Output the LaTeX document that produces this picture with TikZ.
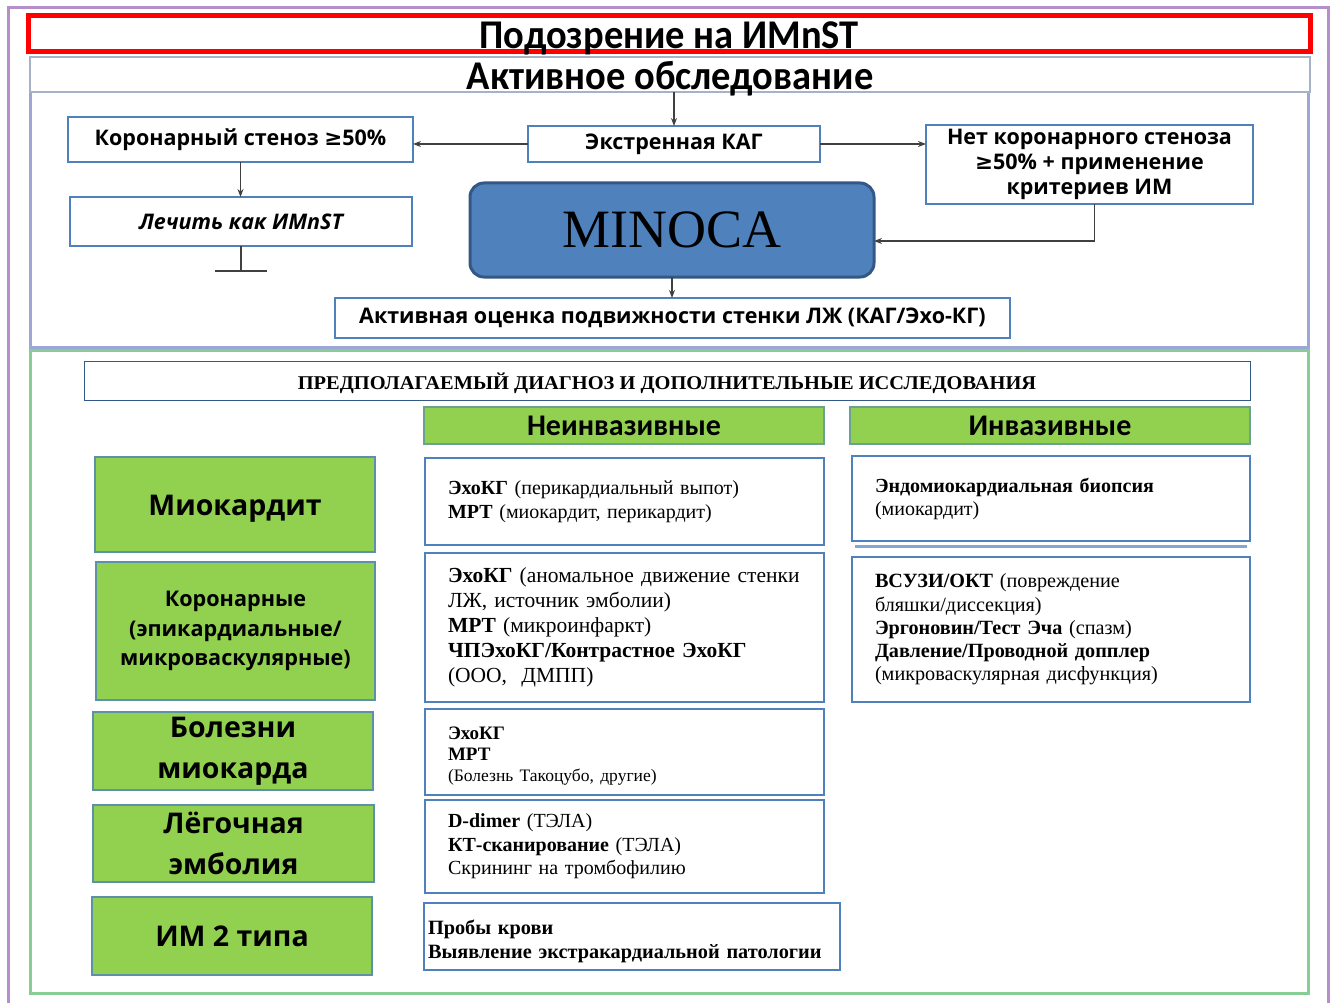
\documentclass[tikz,border=0pt]{standalone}
\usepackage{fontspec}
\setmainfont{Liberation Serif}
\newfontfamily\calfont{Carlito}
\newfontfamily\osfont{Open Sans}
\newfontfamily\djfont{DejaVu Sans}
\usetikzlibrary{arrows.meta,calc}

\definecolor{framepurple}{RGB}{182,142,202}
\definecolor{framelav}{RGB}{158,166,216}
\definecolor{framegreen}{RGB}{134,206,150}
\definecolor{boxblue}{RGB}{79,129,189}
\definecolor{darkblue}{RGB}{52,88,134}
\definecolor{leafgreen}{RGB}{146,208,80}
\definecolor{arrowgray}{RGB}{64,64,64}
\definecolor{softgray}{RGB}{165,178,200}

\newcommand\fsz[2]{\fontsize{#1}{#2}\selectfont}
\newcommand\gesign{{\djfont\bfseries ≥}}
% move content down while keeping its reported height and depth
\newcommand\dropby[2]{\raisebox{-#1pt}[\height][\depth]{#2}}
% box from corner (x1,y1) to corner (x2,y2): style, x1, y1, x2, y2, name, text
\newcommand\bx[7]{\node[#1, minimum width={#4-#2}, minimum height={#5-#3}]
  (#6) at ({(#2+#4)/2},{(#3+#5)/2}) {#7};}

\begin{document}
\begin{tikzpicture}[x=1pt,y=-1pt,
  every node/.style={inner sep=0pt, outer sep=0pt},
  headbox/.style={draw=boxblue, line width=2.2pt, fill=white,
    font=\osfont\bfseries\fsz{21.5}{25}, align=center},
  greenbox/.style={draw=boxblue!80!leafgreen, line width=1.6pt, fill=leafgreen,
    font=\osfont\bfseries\fsz{28.5}{41}, align=center},
  colhead/.style={draw=boxblue!60!leafgreen, line width=1.4pt, fill=leafgreen,
    font=\calfont\bfseries\fsz{30}{32}},
  testbox/.style={draw=boxblue, line width=2.2pt, fill=white, align=left},
  arr/.style={draw=arrowgray, line width=1.3pt, -{Stealth[length=8pt,width=6pt]}},
  region/.style={line width=3pt}
]
\useasboundingbox (0,0) rectangle (1336,1003);
\fill[white] (0,0) rectangle (1336,1003);

% outer frame (continues below the page edge)
\draw[framepurple, region] (8,1010) -- (8,8) -- (1328,8) -- (1328,1010);

% section frames
\bx{draw=framelav, region}{30}{92}{1308}{347}{upper}{}
\bx{draw=framegreen, region}{30}{350}{1308}{993}{lower}{}

% title bars
\bx{draw=red, line width=5pt, fill=white, font=\calfont\bfseries\fsz{38.5}{40}}
  {28}{16}{1310}{52}{susp}{\dropby{4}{\scalebox{1}[1.06]{Подозрение на ИМnST}}}
\bx{draw=softgray, line width=1.4pt, fill=white, font=\calfont\bfseries\fsz{38.5}{40}}
  {30}{57}{1310}{92}{akt}{\dropby{4}{\scalebox{1}[1.06]{Активное обследование}}}

% upper flow
\bx{headbox}{68}{117}{413}{162}{kor}{Коронарный стеноз \gesign50\%}
\bx{headbox}{528}{126}{820}{162}{kag}{Экстренная КАГ}
\bx{headbox}{926}{125}{1253}{204}{net}
  {Нет коронарного стеноза\\\gesign50\% + применение\\критериев ИМ}
\bx{headbox, font=\osfont\bfseries\itshape\fsz{21.5}{25}}{70}{197}{412}{246}{lech}
  {Лечить как ИМnST}
\bx{draw=darkblue, line width=3pt, fill=boxblue, rounded corners=14pt, font=\fsz{54}{56}}
  {470}{183}{874}{277}{minoca}{MINOCA}
\bx{headbox}{335}{298}{1010}{338}{ocen}
  {Активная оценка подвижности стенки ЛЖ (КАГ/Эхо-КГ)}

\draw[arr] (akt.south -| kag.north) -- (kag.north);
\draw[arr] (kag.west) -- (kag.west -| kor.east);
\draw[arr] (kag.east) -- (kag.east -| net.west);
\draw[arr] (kor.south) -- (kor.south |- lech.north);
\draw[arr] ([xshift=5pt]net.south) |- ([yshift=-11pt]minoca.east);
\draw[arr] (minoca.south) -- (minoca.south |- ocen.north);
\coordinate (stop) at ($(lech.south)+(0,25)$);
\draw[arrowgray, line width=1.3pt] (lech.south) -- (stop);
\draw[arrowgray, line width=1.3pt] ([xshift=-26pt]stop) -- ([xshift=26pt]stop);

% lower section heading
\bx{draw=darkblue, line width=1pt, fill=white, font=\bfseries\fsz{19.5}{21}}
  {84}{361}{1250}{400}{hdr}
  {\dropby{3}{\scalebox{1.048}[1]{ПРЕДПОЛАГАЕМЫЙ ДИАГНОЗ И ДОПОЛНИТЕЛЬНЫЕ ИССЛЕДОВАНИЯ}}}
\bx{colhead}{424}{407}{824}{444}{nonh}{Неинвазивные}
\bx{colhead}{850}{407}{1250}{444}{invh}{Инвазивные}

% suspected diagnoses
\bx{greenbox}{95}{457}{375}{552}{myo}{\dropby{4}{Миокардит}}
\bx{greenbox, font=\osfont\bfseries\fsz{21.6}{29.5}}{96}{562}{375}{700}{cor}
  {Коронарные\\(эпикардиальные/\\микроваскулярные)}
\bx{greenbox}{93}{712}{373}{790}{bol}{Болезни\\миокарда}
\bx{greenbox}{93}{805}{374}{882}{leg}{Лёгочная\\эмболия}
\bx{greenbox}{92}{897}{372}{975}{im2}{ИМ 2 типа}

% non-invasive tests
\bx{testbox, text width=353pt, font=\fsz{20}{24}}{425}{458}{824}{545}{n1}
  {\textbf{ЭхоКГ} (перикардиальный выпот)\\\textbf{МРТ} (миокардит, перикардит)}
\bx{testbox, text width=353pt, font=\fsz{21.5}{25}}{425}{553}{824}{702}{n2}
  {\textbf{ЭхоКГ} (аномальное движение стенки\\ЛЖ, источник эмболии)\\\textbf{МРТ} (микроинфаркт)\\\textbf{ЧПЭхоКГ/Контрастное ЭхоКГ}\\(ООО,~~ДМПП)}
\bx{testbox, text width=353pt, font=\fsz{19}{21}}{425}{709}{824}{795}{n3}
  {\dropby{4}{\parbox{353pt}{\raggedright\textbf{ЭхоКГ}\\\textbf{МРТ}\\{\fsz{17.5}{21}(Болезнь Такоцубо, другие)}}}}
\bx{testbox, text width=353pt, font=\fsz{20}{23.5}}{425}{800}{824}{893}{n4}
  {\textbf{D-dimer} (ТЭЛА)\\\textbf{КТ-сканирование} (ТЭЛА)\\Скрининг на тромбофилию}
\bx{testbox, text width=408pt, font=\bfseries\fsz{20.3}{24}}{424}{903}{840}{970}{n5}
  {\dropby{5}{\parbox{408pt}{\raggedright Пробы крови\\Выявление экстракардиальной патологии}}}

% invasive tests
\fill[boxblue!70] (855,545) rectangle (1247,548);
\bx{testbox, text width=352pt, font=\fsz{20}{23}}{852}{456}{1250}{541}{i1}
  {\textbf{Эндомиокардиальная биопсия}\\(миокардит)}
\bx{testbox, text width=352pt, font=\fsz{20.2}{23.3}}{852}{557}{1250}{702}{i2}
  {\textbf{ВСУЗИ/ОКТ} (повреждение\\бляшки/диссекция)\\\textbf{Эргоновин/Тест Эча} (спазм)\\\textbf{Давление/Проводной допплер}\\(микроваскулярная дисфункция)}
\end{tikzpicture}
\end{document}
